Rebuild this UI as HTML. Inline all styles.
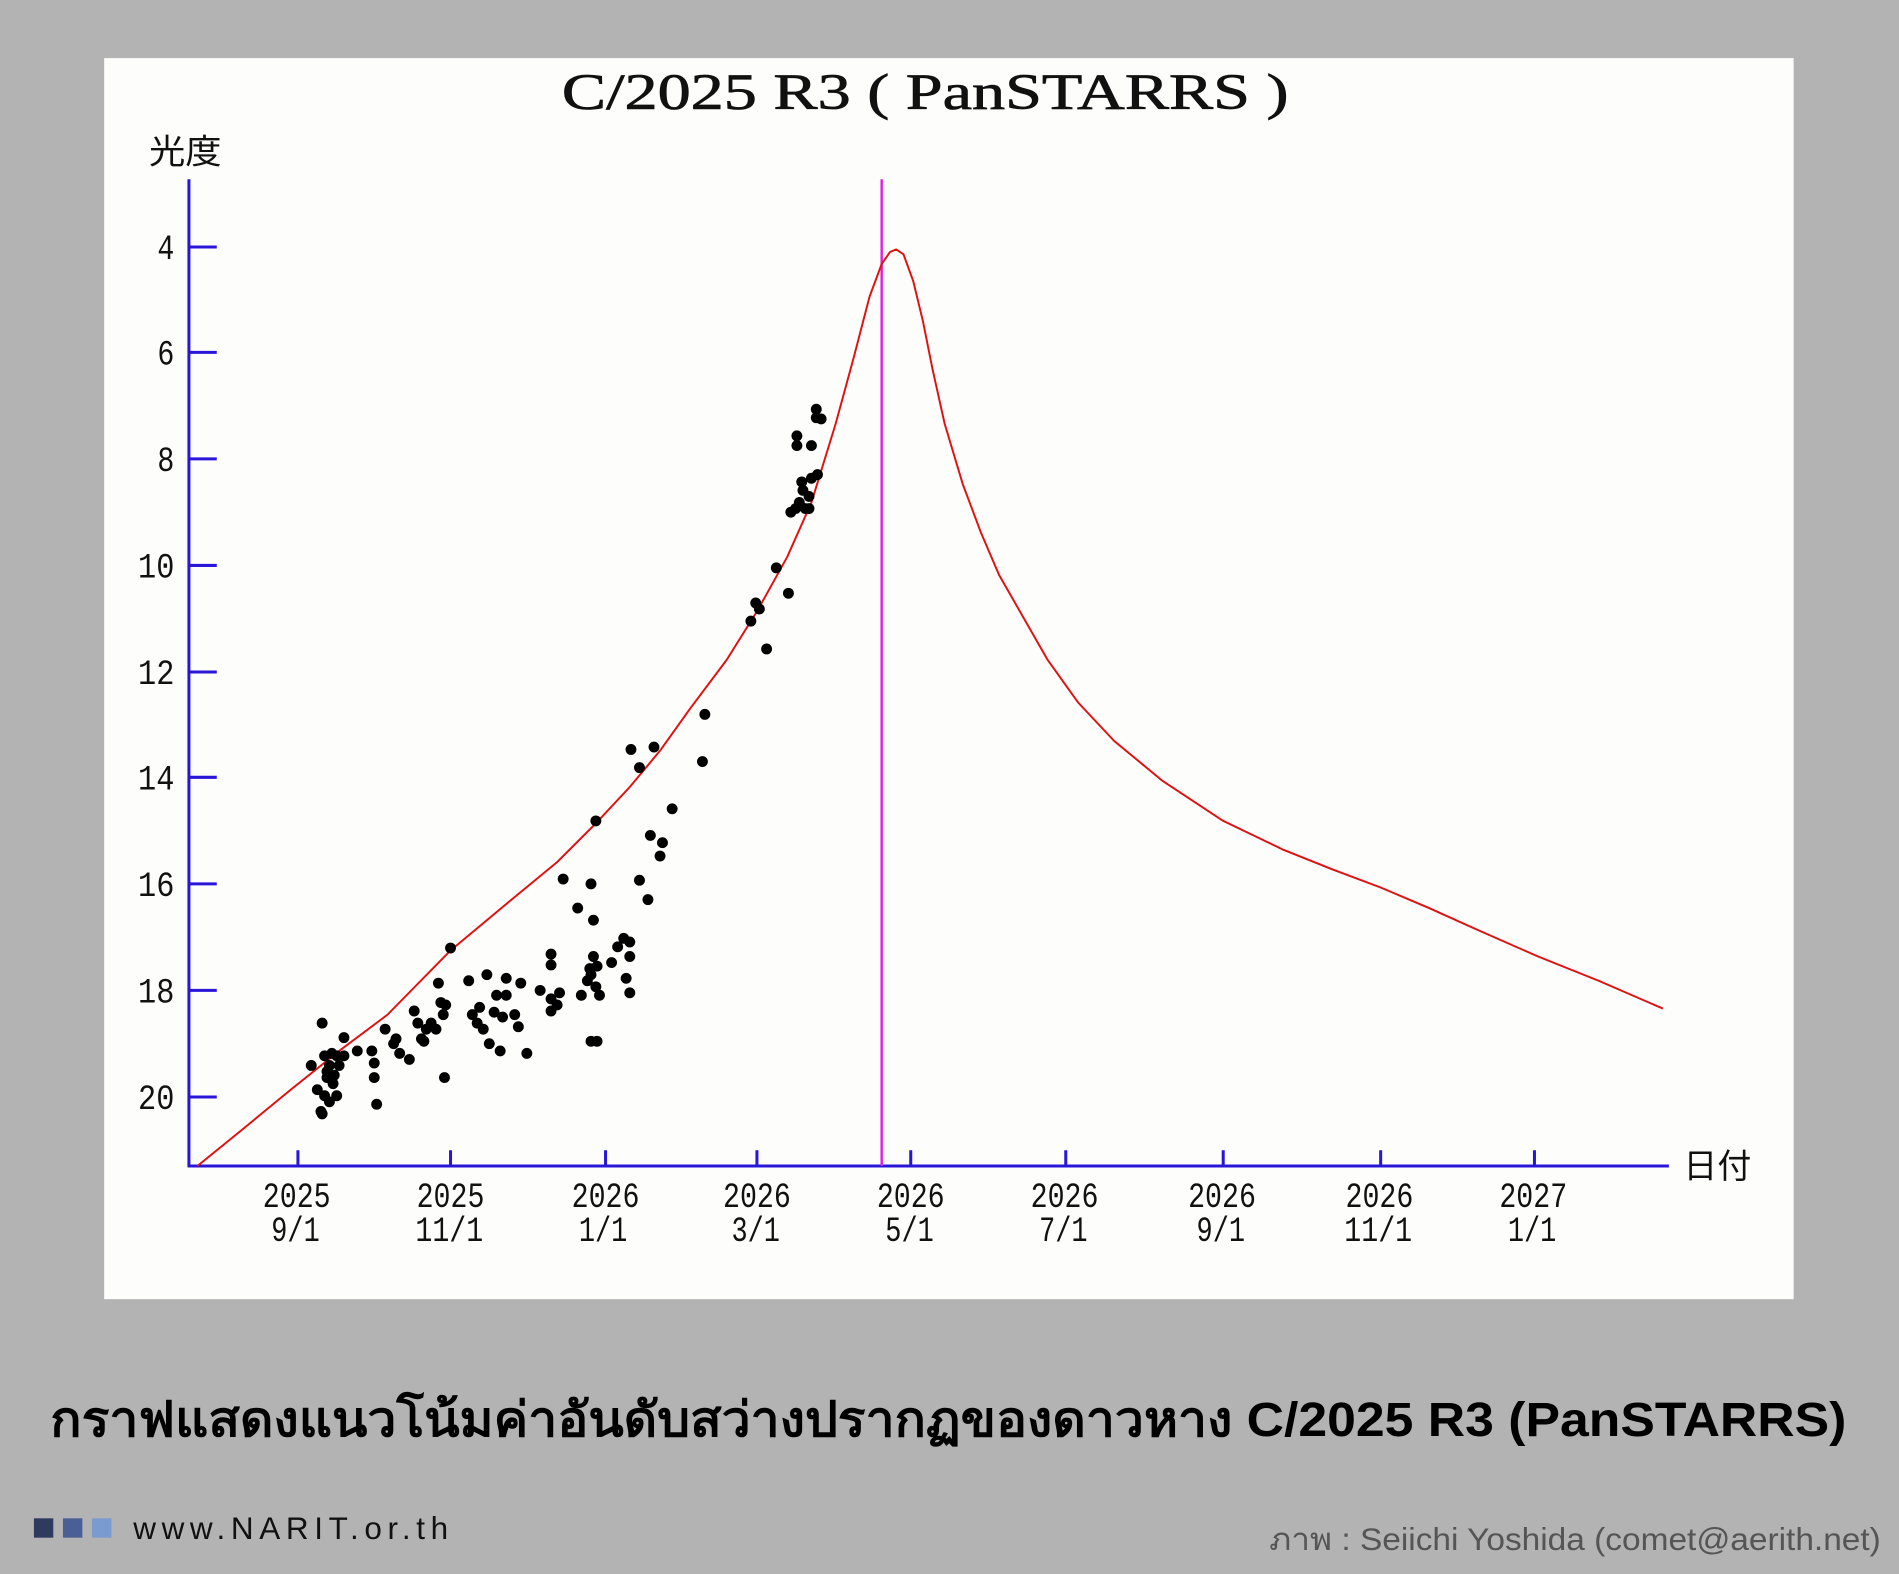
<!DOCTYPE html>
<html><head><meta charset="utf-8"><style>
html,body{margin:0;padding:0;background:#b3b3b3;}
svg{display:block;}
</style></head><body>
<svg width="1899" height="1574" viewBox="0 0 1568 1300" preserveAspectRatio="none" xmlns="http://www.w3.org/2000/svg">
<rect x="0" y="0" width="1568" height="1300" fill="#b3b3b3"/>
<rect x="86" y="48" width="1395" height="1025" fill="#fdfdfb"/>
<text x="764" y="90" font-family="Liberation Serif, serif" font-size="42" text-anchor="middle" fill="#111" stroke="#111" stroke-width="0.6" textLength="600" lengthAdjust="spacingAndGlyphs">C/2025 R3 ( PanSTARRS )</text>
<text x="123" y="135" font-family="Liberation Sans, 'Noto Sans CJK JP', sans-serif" font-size="28" fill="#111" textLength="60" lengthAdjust="spacingAndGlyphs">光度</text>
<text x="1390" y="973" font-family="Liberation Sans, 'Noto Sans CJK JP', sans-serif" font-size="28" fill="#111" textLength="56" lengthAdjust="spacingAndGlyphs">日付</text>
<g stroke="#2a16d8" stroke-width="2.5" fill="none">
<line x1="156" y1="148" x2="156" y2="964"/>
<line x1="155" y1="963" x2="1378" y2="963"/>
<line x1="156" y1="204" x2="179" y2="204"/>
<line x1="156" y1="291" x2="179" y2="291"/>
<line x1="156" y1="379" x2="179" y2="379"/>
<line x1="156" y1="467" x2="179" y2="467"/>
<line x1="156" y1="555" x2="179" y2="555"/>
<line x1="156" y1="642" x2="179" y2="642"/>
<line x1="156" y1="730" x2="179" y2="730"/>
<line x1="156" y1="818" x2="179" y2="818"/>
<line x1="156" y1="906" x2="179" y2="906"/>
<line x1="246" y1="950" x2="246" y2="963"/>
<line x1="372" y1="950" x2="372" y2="963"/>
<line x1="500" y1="950" x2="500" y2="963"/>
<line x1="625" y1="950" x2="625" y2="963"/>
<line x1="752" y1="950" x2="752" y2="963"/>
<line x1="880" y1="950" x2="880" y2="963"/>
<line x1="1010" y1="950" x2="1010" y2="963"/>
<line x1="1140" y1="950" x2="1140" y2="963"/>
<line x1="1267" y1="950" x2="1267" y2="963"/>
</g>
<g font-family="Liberation Mono, monospace" font-size="29" fill="#111" text-anchor="end">
<text x="144" y="214" textLength="14" lengthAdjust="spacingAndGlyphs">4</text>
<text x="144" y="301" textLength="14" lengthAdjust="spacingAndGlyphs">6</text>
<text x="144" y="389" textLength="14" lengthAdjust="spacingAndGlyphs">8</text>
<text x="144" y="477" textLength="30" lengthAdjust="spacingAndGlyphs">10</text>
<text x="144" y="565" textLength="30" lengthAdjust="spacingAndGlyphs">12</text>
<text x="144" y="652" textLength="30" lengthAdjust="spacingAndGlyphs">14</text>
<text x="144" y="740" textLength="30" lengthAdjust="spacingAndGlyphs">16</text>
<text x="144" y="828" textLength="30" lengthAdjust="spacingAndGlyphs">18</text>
<text x="144" y="916" textLength="30" lengthAdjust="spacingAndGlyphs">20</text>
</g>
<g font-family="Liberation Mono, monospace" font-size="29" fill="#111" text-anchor="middle" lengthAdjust="spacingAndGlyphs">
<text x="245" y="997" textLength="56" lengthAdjust="spacingAndGlyphs">2025</text><text x="244" y="1025" textLength="40" lengthAdjust="spacingAndGlyphs">9/1</text>
<text x="372" y="997" textLength="56" lengthAdjust="spacingAndGlyphs">2025</text><text x="371" y="1025" textLength="56" lengthAdjust="spacingAndGlyphs">11/1</text>
<text x="500" y="997" textLength="56" lengthAdjust="spacingAndGlyphs">2026</text><text x="498" y="1025" textLength="40" lengthAdjust="spacingAndGlyphs">1/1</text>
<text x="625" y="997" textLength="56" lengthAdjust="spacingAndGlyphs">2026</text><text x="624" y="1025" textLength="40" lengthAdjust="spacingAndGlyphs">3/1</text>
<text x="752" y="997" textLength="56" lengthAdjust="spacingAndGlyphs">2026</text><text x="751" y="1025" textLength="40" lengthAdjust="spacingAndGlyphs">5/1</text>
<text x="879" y="997" textLength="56" lengthAdjust="spacingAndGlyphs">2026</text><text x="878" y="1025" textLength="40" lengthAdjust="spacingAndGlyphs">7/1</text>
<text x="1009" y="997" textLength="56" lengthAdjust="spacingAndGlyphs">2026</text><text x="1008" y="1025" textLength="40" lengthAdjust="spacingAndGlyphs">9/1</text>
<text x="1139" y="997" textLength="56" lengthAdjust="spacingAndGlyphs">2026</text><text x="1138" y="1025" textLength="56" lengthAdjust="spacingAndGlyphs">11/1</text>
<text x="1266" y="997" textLength="56" lengthAdjust="spacingAndGlyphs">2027</text><text x="1265" y="1025" textLength="40" lengthAdjust="spacingAndGlyphs">1/1</text>
</g>
<line x1="728" y1="148" x2="728" y2="963" stroke="#e020e0" stroke-width="2"/>
<polyline fill="none" stroke="#e01010" stroke-width="1.6" stroke-linejoin="round" points="163,963 200,933 240,900 280,868 320,838 372,785 420,745 460,712 492,680 520,650 545,620 570,585 600,545 625,505 650,460 670,415 690,350 705,295 718,245 728,218 735,208 740,206 746,210 754,232 762,265 770,305 780,350 795,400 810,440 825,475 845,510 865,545 890,580 920,612 960,645 1010,678 1060,702 1100,718 1140,733 1180,750 1220,768 1270,790 1320,810 1373,833"/>
<g fill="#000">
<circle cx="266" cy="845" r="4.5"/><circle cx="257" cy="880" r="4.5"/><circle cx="268" cy="872" r="4.5"/><circle cx="272" cy="880" r="4.5"/><circle cx="278" cy="872" r="4.5"/><circle cx="284" cy="872" r="4.5"/><circle cx="284" cy="857" r="4.5"/><circle cx="270" cy="890" r="4.5"/><circle cx="275" cy="895" r="4.5"/><circle cx="262" cy="900" r="4.5"/><circle cx="268" cy="905" r="4.5"/><circle cx="272" cy="910" r="4.5"/><circle cx="265" cy="918" r="4.5"/><circle cx="278" cy="905" r="4.5"/><circle cx="266" cy="920" r="4.5"/><circle cx="280" cy="880" r="4.5"/><circle cx="274" cy="870" r="4.5"/><circle cx="270" cy="885" r="4.5"/><circle cx="276" cy="888" r="4.5"/>
<circle cx="295" cy="868" r="4.5"/><circle cx="307" cy="868" r="4.5"/><circle cx="309" cy="878" r="4.5"/><circle cx="309" cy="890" r="4.5"/><circle cx="311" cy="912" r="4.5"/><circle cx="318" cy="850" r="4.5"/><circle cx="327" cy="858" r="4.5"/><circle cx="330" cy="870" r="4.5"/><circle cx="325" cy="862" r="4.5"/><circle cx="338" cy="875" r="4.5"/><circle cx="342" cy="835" r="4.5"/><circle cx="345" cy="845" r="4.5"/><circle cx="348" cy="858" r="4.5"/><circle cx="352" cy="850" r="4.5"/><circle cx="356" cy="845" r="4.5"/><circle cx="350" cy="860" r="4.5"/><circle cx="360" cy="850" r="4.5"/><circle cx="364" cy="828" r="4.5"/><circle cx="366" cy="838" r="4.5"/><circle cx="362" cy="812" r="4.5"/><circle cx="368" cy="830" r="4.5"/><circle cx="367" cy="890" r="4.5"/><circle cx="372" cy="783" r="4.5"/>
<circle cx="387" cy="810" r="4.5"/><circle cx="390" cy="838" r="4.5"/><circle cx="394" cy="845" r="4.5"/><circle cx="396" cy="832" r="4.5"/><circle cx="399" cy="850" r="4.5"/><circle cx="402" cy="805" r="4.5"/><circle cx="404" cy="862" r="4.5"/><circle cx="408" cy="836" r="4.5"/><circle cx="410" cy="822" r="4.5"/><circle cx="413" cy="868" r="4.5"/><circle cx="415" cy="840" r="4.5"/><circle cx="418" cy="808" r="4.5"/><circle cx="418" cy="822" r="4.5"/><circle cx="425" cy="838" r="4.5"/><circle cx="428" cy="848" r="4.5"/><circle cx="430" cy="812" r="4.5"/><circle cx="435" cy="870" r="4.5"/><circle cx="446" cy="818" r="4.5"/>
<circle cx="455" cy="788" r="4.5"/><circle cx="455" cy="797" r="4.5"/><circle cx="455" cy="825" r="4.5"/><circle cx="455" cy="835" r="4.5"/><circle cx="460" cy="830" r="4.5"/><circle cx="462" cy="820" r="4.5"/><circle cx="465" cy="726" r="4.5"/><circle cx="477" cy="750" r="4.5"/><circle cx="480" cy="822" r="4.5"/><circle cx="485" cy="810" r="4.5"/><circle cx="487" cy="800" r="4.5"/><circle cx="490" cy="790" r="4.5"/><circle cx="492" cy="815" r="4.5"/><circle cx="495" cy="822" r="4.5"/><circle cx="488" cy="730" r="4.5"/><circle cx="490" cy="760" r="4.5"/><circle cx="488" cy="860" r="4.5"/><circle cx="493" cy="860" r="4.5"/><circle cx="492" cy="678" r="4.5"/><circle cx="488" cy="805" r="4.5"/><circle cx="493" cy="798" r="4.5"/>
<circle cx="505" cy="795" r="4.5"/><circle cx="510" cy="782" r="4.5"/><circle cx="515" cy="775" r="4.5"/><circle cx="517" cy="808" r="4.5"/><circle cx="520" cy="790" r="4.5"/><circle cx="520" cy="820" r="4.5"/><circle cx="520" cy="778" r="4.5"/><circle cx="521" cy="619" r="4.5"/><circle cx="528" cy="634" r="4.5"/><circle cx="528" cy="727" r="4.5"/><circle cx="535" cy="743" r="4.5"/><circle cx="537" cy="690" r="4.5"/><circle cx="540" cy="617" r="4.5"/><circle cx="547" cy="696" r="4.5"/><circle cx="545" cy="707" r="4.5"/><circle cx="555" cy="668" r="4.5"/><circle cx="580" cy="629" r="4.5"/><circle cx="582" cy="590" r="4.5"/>
<circle cx="620" cy="513" r="4.5"/><circle cx="624" cy="498" r="4.5"/><circle cx="627" cy="503" r="4.5"/><circle cx="633" cy="536" r="4.5"/><circle cx="641" cy="469" r="4.5"/><circle cx="651" cy="490" r="4.5"/><circle cx="653" cy="423" r="4.5"/><circle cx="657" cy="420" r="4.5"/><circle cx="660" cy="415" r="4.5"/><circle cx="663" cy="405" r="4.5"/><circle cx="662" cy="398" r="4.5"/><circle cx="665" cy="420" r="4.5"/><circle cx="668" cy="410" r="4.5"/><circle cx="670" cy="395" r="4.5"/><circle cx="668" cy="420" r="4.5"/><circle cx="675" cy="392" r="4.5"/><circle cx="658" cy="360" r="4.5"/><circle cx="658" cy="368" r="4.5"/><circle cx="670" cy="368" r="4.5"/><circle cx="674" cy="338" r="4.5"/><circle cx="678" cy="346" r="4.5"/><circle cx="674" cy="345" r="4.5"/>
</g>
<text x="783" y="1186" font-family="Liberation Sans, sans-serif" font-size="40" font-weight="bold" text-anchor="middle" textLength="1483" lengthAdjust="spacingAndGlyphs" fill="#000">กราฟแสดงแนวโน้มค่าอันดับสว่างปรากฏของดาวหาง C/2025 R3 (PanSTARRS)</text>
<rect x="28" y="1254" width="16" height="16" fill="#2e3a5e"/>
<rect x="52" y="1254" width="16" height="16" fill="#4a5f96"/>
<rect x="76" y="1254" width="16" height="16" fill="#7a9bd0"/>
<text x="110" y="1271" font-family="Liberation Sans, sans-serif" font-size="26" fill="#111" textLength="260" lengthAdjust="spacing">www.NARIT.or.th</text>
<text x="1553" y="1280" font-family="Liberation Sans, sans-serif" font-size="26" text-anchor="end" fill="#555" textLength="505" lengthAdjust="spacingAndGlyphs">ภาพ : Seiichi Yoshida (comet@aerith.net)</text>
</svg>
</body></html>
